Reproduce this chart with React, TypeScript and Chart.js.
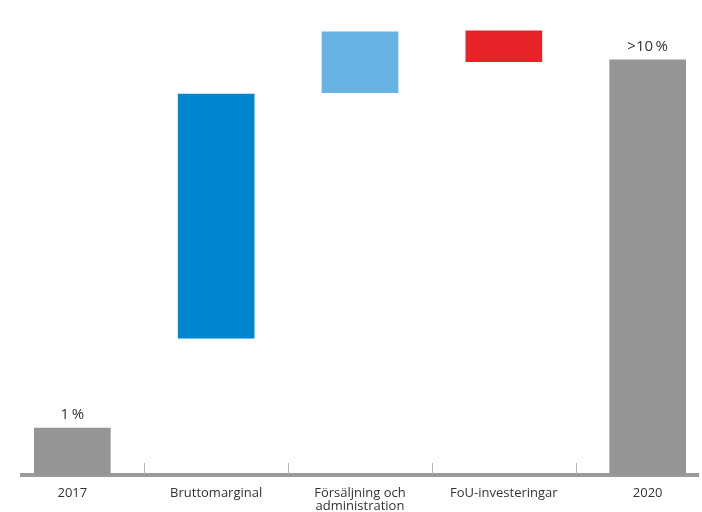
import React, { useEffect, useRef } from "react";
import { Chart, registerables } from "chart.js";

Chart.register(...registerables);

const categories: (string | string[])[] = [
  "2017",
  "Bruttomarginal",
  ["Försäljning och", "administration"],
  "FoU-investeringar",
  "2020",
];
const barStarts = [0, 2.88, 8.05, 8.7, 0];
const barEnds = [0.99, 8.02, 9.33, 9.35, 8.74];
const valueLabels = ["1\u2009%", "", "", "", ">10\u2009%"];
const barColors = ["#959595", "#0086cf", "#66b3e3", "#e52329", "#959595"];

const FONT = "'Open Sans', 'Noto Sans', sans-serif";

const extrasPlugin = {
  id: "extras",
  afterDatasetsDraw(chart: any) {
    const ctx = chart.ctx;
    const xs = chart.scales.x;
    const ys = chart.scales.y;
    const bottom = chart.chartArea.bottom;
    ctx.save();
    // separator ticks between categories
    ctx.strokeStyle = "#b5b5b5";
    ctx.lineWidth = 1;
    for (let i = 0; i < categories.length - 1; i++) {
      const px = Math.round(xs.getPixelForValue(i + 0.5)) + 0.5;
      ctx.beginPath();
      ctx.moveTo(px, bottom - 12);
      ctx.lineTo(px, bottom - 1);
      ctx.stroke();
    }
    // value labels
    ctx.fillStyle = "#333333";
    ctx.font = `15px ${FONT}`;
    ctx.textAlign = "center";
    ctx.textBaseline = "alphabetic";
    valueLabels.forEach((lbl, i) => {
      if (!lbl) return;
      const px = xs.getPixelForValue(i);
      const py = ys.getPixelForValue(barEnds[i]);
      ctx.fillText(lbl, px, py - 9);
    });
    ctx.restore();
  },
};

export default function App() {
  const ref = useRef<HTMLCanvasElement | null>(null);
  useEffect(() => {
    if (!ref.current) return;
    const chart = new Chart(ref.current, {
      type: "bar",
      data: {
        labels: categories as any,
        datasets: [
          {
            data: categories.map((_, i) => ({ x: i, y: [barStarts[i], barEnds[i]] })) as any,
            backgroundColor: barColors,
            borderWidth: 0,
            barThickness: 76,
          },
        ],
      },
      options: {
        animation: false,
        responsive: true,
        maintainAspectRatio: false,
        layout: { padding: { left: 22, right: 4, top: 0, bottom: 0 } },
        plugins: { legend: { display: false }, tooltip: { enabled: false } },
        scales: {
          x: {
            type: "linear",
            offset: false,
            min: -0.35,
            max: 4.35,
            afterBuildTicks: (scale: any) => {
              scale.ticks = categories.map((_, i) => ({ value: i }));
            },
            afterFit: (scale: any) => {
              scale.height = 37;
            },
            grid: { display: false },
            border: { display: true, color: "#9a9a9a", width: 4 },
            ticks: {
              autoSkip: false,
              maxRotation: 0,
              padding: 3,
              color: "#333333",
              font: { family: FONT, size: 13, lineHeight: 1.05 },
              callback: (v: any) => categories[v as number] as any,
            },
          },
          y: {
            display: false,
            min: 0,
            max: 10,
          },
        },
      },
      plugins: [extrasPlugin],
    });
    return () => chart.destroy();
  }, []);
  return (
    <div style={{ position: "absolute", left: 0, top: 0, width: 702, height: 512, background: "#fff" }}>
      <canvas ref={ref} />
    </div>
  );
}
